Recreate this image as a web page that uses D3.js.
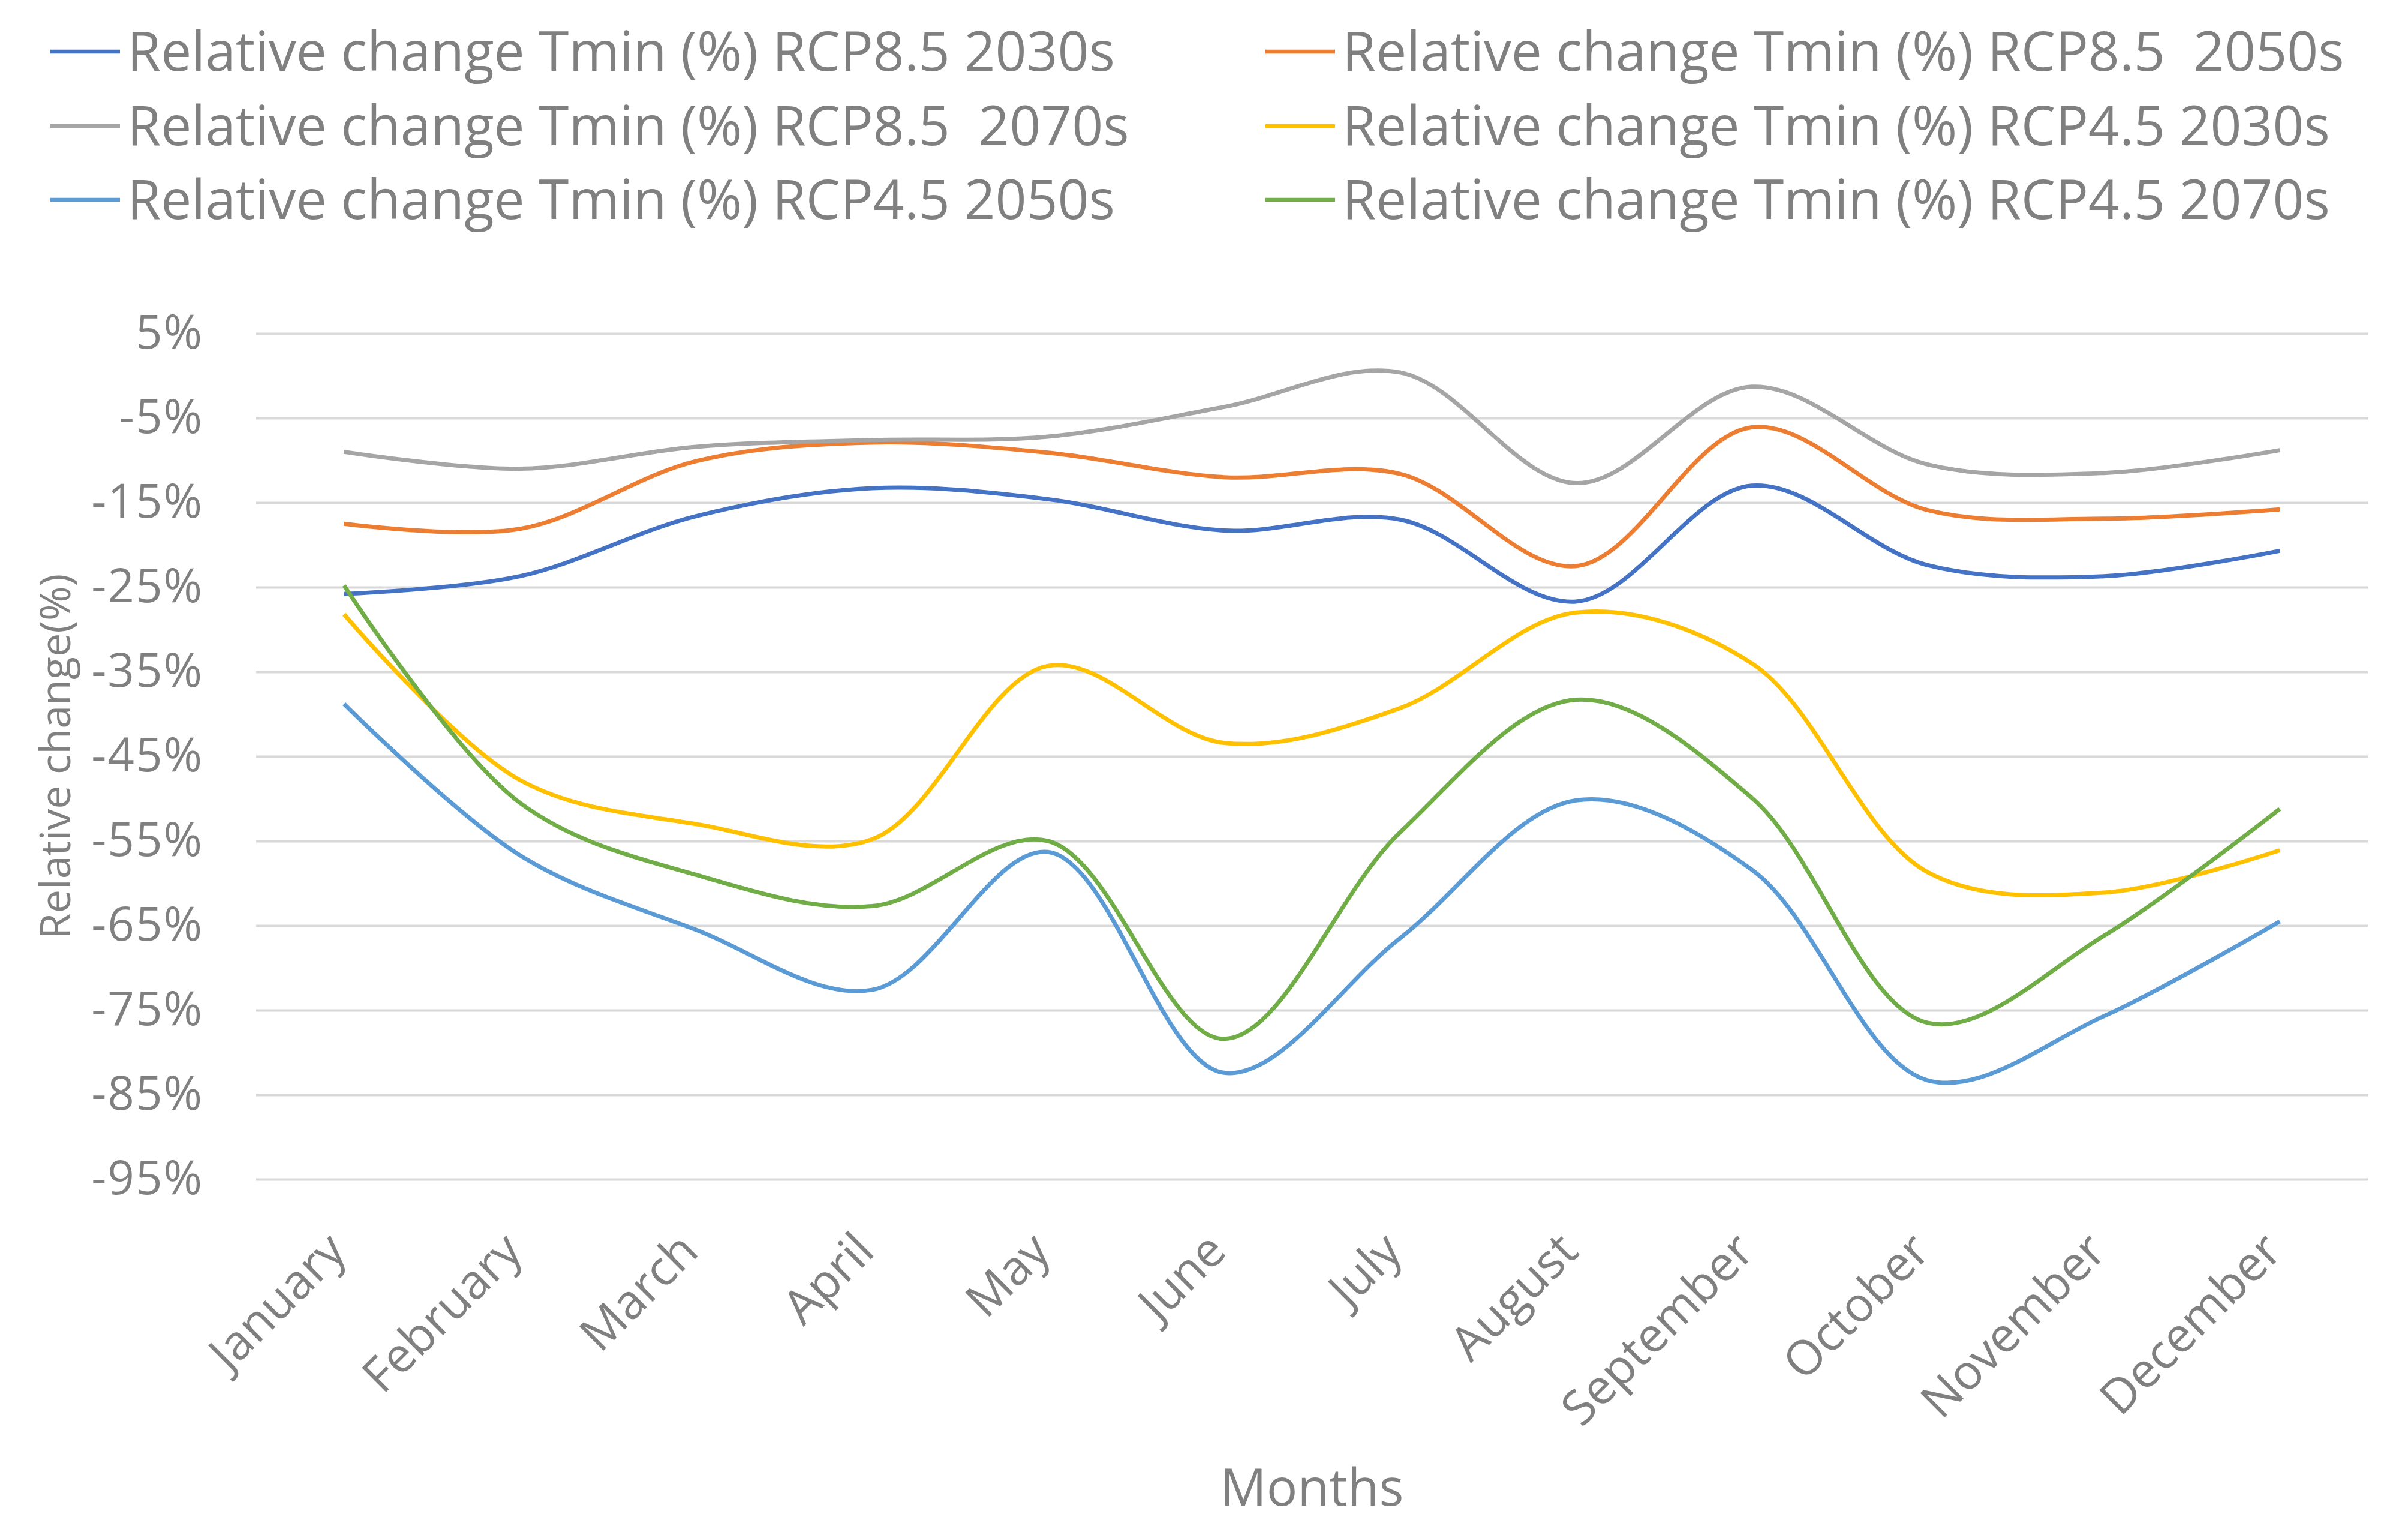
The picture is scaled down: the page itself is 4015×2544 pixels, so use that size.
<!DOCTYPE html>
<html>
<head>
<meta charset="utf-8">
<script src="https://cdn.jsdelivr.net/npm/d3@7"></script>
<style>
  body { margin: 0; background: #ffffff; }
  text { font-family: "Open Sans", "Noto Sans", sans-serif; fill: #808080; }
</style>
</head>
<body>
<div id="chart"></div>
<script>

// Chart data
// ==============================
var months = ["January", "February", "March", "April", "May", "June",
  "July", "August", "September", "October", "November", "December"];

var yTicks = [5, -5, -15, -25, -35, -45, -55, -65, -75, -85, -95];

var rcp85_2030 = [-25.8, -23.7, -16.6, -13.3, -14.6, -18.3, -17.0, -26.7, -13.0, -22.4, -23.7, -20.7];
var rcp85_2050 = [-17.5, -18.1, -10.1, -7.9, -9.1, -12.0, -11.6, -22.5, -6.1, -15.9, -16.9, -15.8];
var rcp85_2070 = [-9.0, -11.0, -8.4, -7.6, -7.2, -3.7, 0.4, -12.7, -1.3, -10.5, -11.5, -8.8];
var rcp45_2030 = [-28.2, -47.8, -53.0, -54.8, -34.3, -43.4, -39.3, -28.0, -34.0, -58.7, -61.1, -56.1];
var rcp45_2050 = [-38.8, -56.7, -65.5, -72.6, -56.3, -82.4, -66.5, -50.2, -58.4, -83.3, -75.7, -64.5];
var rcp45_2070 = [-24.8, -50.5, -59.0, -62.7, -55.0, -78.4, -54.0, -38.3, -49.9, -76.5, -66.2, -51.2];

var seriesNames = [
  "Relative change Tmin (%) RCP8.5 2030s",
  "Relative change Tmin (%) RCP8.5  2050s",
  "Relative change Tmin (%) RCP8.5  2070s",
  "Relative change Tmin (%) RCP4.5 2030s",
  "Relative change Tmin (%) RCP4.5 2050s",
  "Relative change Tmin (%) RCP4.5 2070s"
];
var seriesValues = [rcp85_2030, rcp85_2050, rcp85_2070, rcp45_2030, rcp45_2050, rcp45_2070];
var seriesColors = ["#4472C4", "#ED7D31", "#A5A5A5", "#FFC000", "#5B9BD5", "#70AD47"];

// Set chart parameters
// ==============================
var svgWidth = 4015;
var svgHeight = 2544;

var margin = {
  top: 556,
  right: 67,
  bottom: 578,
  left: 427
};

var width = svgWidth - margin.left - margin.right;
var height = svgHeight - margin.top - margin.bottom;

var svg = d3.select("#chart")
  .append("svg")
  .attr("width", svgWidth)
  .attr("height", svgHeight);

var chartGroup = svg.append("g")
  .attr("transform", `translate(${margin.left}, ${margin.top})`);

// Scales
// ==============================
var xScale = d3.scalePoint()
  .domain(months)
  .range([0, width])
  .padding(0.5);

var yScale = d3.scaleLinear()
  .domain([-95, 5])
  .range([height, 0]);

// Gridlines + y axis labels
// ==============================
var leftAxis = d3.axisLeft(yScale)
  .tickValues(yTicks)
  .tickSize(-width)
  .tickPadding(88)
  .tickFormat(d => d + "%");

var yAxisGroup = chartGroup.append("g")
  .call(leftAxis);

yAxisGroup.select(".domain").remove();
yAxisGroup.selectAll("line")
  .attr("stroke", "#d9d9d9")
  .attr("stroke-width", 4);
yAxisGroup.selectAll("text")
  .attr("font-size", 78)
  .style("letter-spacing", "2px")
  .style("fill", "#808080");

// x axis labels
// ==============================
var bottomAxis = d3.axisBottom(xScale).tickSize(0);

var xAxisGroup = chartGroup.append("g")
  .attr("transform", `translate(0, ${height})`)
  .call(bottomAxis);

xAxisGroup.select(".domain").remove();
xAxisGroup.selectAll("text")
  .attr("x", 0)
  .attr("y", 0)
  .attr("dy", 0)
  .attr("font-size", 80)
  .style("text-anchor", "end")
  .style("fill", "#808080")
  .attr("transform", "translate(7, 124) rotate(-45)");

// Lines
// ==============================
var line = d3.line()
  .x((d, i) => xScale(months[i]))
  .y(d => yScale(d))
  .curve(d3.curveCatmullRom.alpha(0.5));

chartGroup.selectAll(".series")
  .data(seriesValues)
  .enter()
  .append("path")
  .attr("class", "series")
  .attr("d", d => line(d))
  .attr("fill", "none")
  .attr("stroke", (d, i) => seriesColors[i])
  .attr("stroke-width", 7)
  .attr("stroke-linejoin", "round");

// Legend
// ==============================
var legendCols = [84, 2110];
var legendRows = [86, 210, 333];

var legend = svg.selectAll(".legend")
  .data(seriesNames)
  .enter()
  .append("g")
  .attr("class", "legend")
  .attr("transform", (d, i) => `translate(${legendCols[i % 2]}, ${legendRows[Math.floor(i / 2)]})`);

legend.append("line")
  .attr("x1", 0)
  .attr("x2", 116)
  .attr("y1", 0)
  .attr("y2", 0)
  .attr("stroke", (d, i) => seriesColors[i])
  .attr("stroke-width", 6.5);

legend.append("text")
  .attr("x", 128)
  .attr("y", 0)
  .attr("dy", "0.35em")
  .attr("font-size", 91)
  .style("white-space", "pre")
  .text(d => d);

// Axis titles
// ==============================
chartGroup.append("text")
  .attr("transform", `translate(${92 - margin.left}, ${height / 2}) rotate(-90)`)
  .attr("dy", "0.35em")
  .attr("text-anchor", "middle")
  .attr("font-size", 70)
  .text("Relative change(%)");

chartGroup.append("text")
  .attr("x", width / 2)
  .attr("y", 2510 - margin.top)
  .attr("text-anchor", "middle")
  .attr("font-size", 86)
  .text("Months");

</script>
</body>
</html>
